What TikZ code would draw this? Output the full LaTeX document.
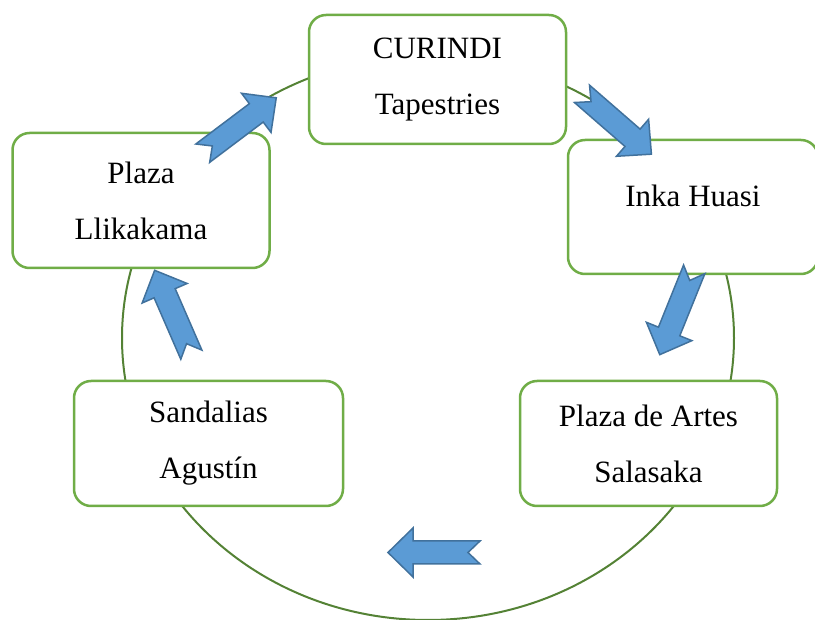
\documentclass[tikz,border=0pt]{standalone}
\usepackage{fontspec}
\setmainfont{Liberation Serif}
\definecolor{boxgreen}{HTML}{70AD47}
\definecolor{ringgreen}{HTML}{548235}
\definecolor{arrowfill}{HTML}{5B9BD5}
\definecolor{arrowline}{HTML}{41719C}
\tikzset{
  notched/.pic={
    \draw[arrowline, fill=arrowfill, line width=1.5pt, line join=miter]
      (-46,-11.5) -- (21,-11.5) -- (21,-24.5) -- (46,0) -- (21,24.5)
      -- (21,11.5) -- (-46,11.5) -- (-34,0) -- cycle;
  }
}

\begin{document}
\begin{tikzpicture}[x=1pt,y=-1pt,
                    place/.style={draw=boxgreen,fill=white,line width=2.5pt,
                      rounded corners=17pt,align=center,inner sep=0pt,
                      font=\fontsize{31}{56}\selectfont}]
  \useasboundingbox (0,0) rectangle (815,620);

  % ring behind the stops
  \draw[ringgreen, line width=2pt] (428,338) ellipse [x radius=306, y radius=282];

  \node[place, minimum width=257pt, minimum height=129pt] (curindi)  at (437.5,79.5) {CURINDI\\Tapestries};
  \node[place, minimum width=250pt, minimum height=134pt, text depth=22pt] (inka) at (693,207) {Inka Huasi};
  \node[place, minimum width=257pt, minimum height=135pt] (plaza)    at (141,200.5)  {Plaza\\Llikakama};
  \node[place, minimum width=269pt, minimum height=125pt] (sandalias) at (208.5,443.5) {Sandalias\\Agustín};
  \node[place, minimum width=257pt, minimum height=125pt] (artes)    at (648.5,443.5) {Plaza de Artes\\Salasaka};

  % block arrows
  \pic[rotate=37]    at (239.5,125.5) {notched};
  \pic[rotate=-41]   at (616.7,124)   {notched};
  \pic[rotate=-112]  at (677,312)     {notched};
  \pic[rotate=180]   at (434,552.5)   {notched};
  \pic[rotate=113.5] at (173,312.5)   {notched};
\end{tikzpicture}
\end{document}
